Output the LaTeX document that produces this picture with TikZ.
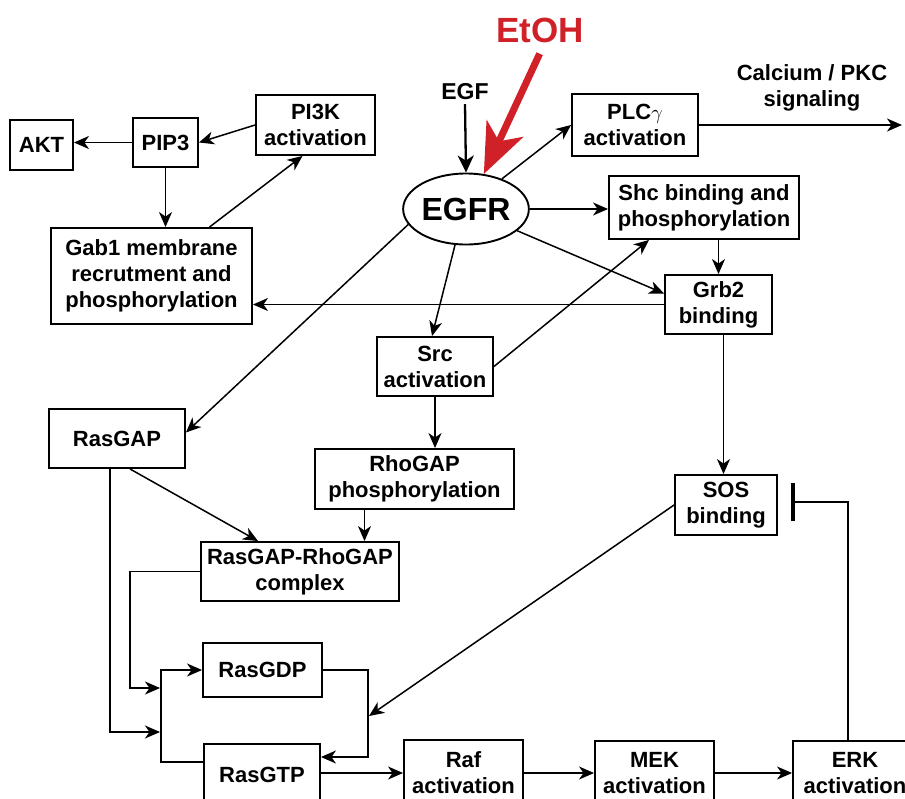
\documentclass[tikz,border=0pt]{standalone}
\usepackage{fontspec}
\setmainfont{Liberation Sans}
\usetikzlibrary{arrows.meta,shapes.geometric}
\definecolor{etohred}{RGB}{208,32,40}

\begin{document}
\begin{tikzpicture}[->,>={Stealth[length=15pt,width=13pt,inset=4.5pt]},
  x=1pt,y=-1pt,line width=1.5pt]
  \tikzstyle{every node}=[font=\fontsize{22}{26}\selectfont\bfseries]
  \tikzstyle{box}=[draw,line width=1.9pt,align=center,inner sep=0pt]
  \tikzstyle{egfarrow}=[line width=2.3pt,-{Stealth[length=17pt,width=16pt,inset=5pt]}]
  \tikzstyle{etoharrow}=[draw=etohred,line width=7pt,shorten <=8pt,
    -{Stealth[length=50pt,width=40pt,inset=14pt]}]
  \tikzstyle{inhibit}=[-{Bar[width=38pt,line width=3.5pt]}]

  \fill[white,-] (0,0) rectangle (905,798);
  \useasboundingbox (0,0) rectangle (905,798);

  % upper left: PI3K branch
  \node[box,minimum width=63,minimum height=50]  (akt)  at (41.5,145)  {AKT};
  \node[box,minimum width=65,minimum height=49]  (pip3) at (165.5,142.5) {PIP3};
  \node[box,minimum width=119,minimum height=60] (pi3k) at (315.5,125)  {PI3K\\activation};
  \node[box,minimum width=201,minimum height=96] (gab1) at (151.5,276)
    {Gab1 membrane\\recrutment and\\phosphorylation};

  % receptor and inputs
  \node[draw,ellipse,line width=1.9pt,minimum width=108,minimum height=71,inner sep=0pt,
    font=\fontsize{32}{36}\selectfont\bfseries] (egfr) at (466,209) {EGFR};
  \node[font=\fontsize{23}{26}\selectfont\bfseries] (egf) at (465,92) {EGF};
  \node[text=etohred,font=\fontsize{35}{40}\selectfont\bfseries] (etoh) at (540,30) {EtOH};

  % right side
  \node[box,minimum width=126,minimum height=62] (plc)  at (635,125)   {PLC$\gamma$\\activation};
  \node[align=center]                            (calcium) at (812,88) {Calcium / PKC\\signaling};
  \node[box,minimum width=190,minimum height=63] (shc)  at (704,207.5) {Shc binding and\\phosphorylation};
  \node[box,minimum width=107,minimum height=59] (grb2) at (718.5,304.5) {Grb2\\binding};
  \node[box,minimum width=102,minimum height=60] (sos)  at (726,505)   {SOS\\binding};

  % middle
  \node[box,minimum width=116,minimum height=59] (src)     at (435,366.5) {Src\\activation};
  \node[box,minimum width=136,minimum height=59] (rasgap)  at (117,438.5) {RasGAP};
  \node[box,minimum width=199,minimum height=60] (rhogap)  at (414.5,479) {RhoGAP\\phosphorylation};
  \node[box,minimum width=198,minimum height=59] (complex) at (300,571.5) {RasGAP-RhoGAP\\complex};

  % Ras cycle and MAPK cascade
  \node[box,minimum width=119,minimum height=54] (rasgdp) at (262.5,670) {RasGDP};
  \node[box,minimum width=116,minimum height=62] (rasgtp) at (262,775)   {RasGTP};
  \node[box,minimum width=119,minimum height=66,text depth=0pt] (raf) at (463.5,773) {Raf\\activation};
  \node[box,minimum width=119,minimum height=64,text depth=0pt] (mek) at (654.5,773) {MEK\\activation};
  \node[box,minimum width=124,minimum height=64,text depth=0pt] (erk) at (855,773)   {ERK\\activation};

  \coordinate (calcend) at (902,125);
  \coordinate (inGDP)   at (160,688);
  \coordinate (inGTP)   at (160,732);
  \coordinate (inloop)  at (369,716);
  \coordinate (sosinh)  at (791,502);

  % connectors
  \draw (pip3.west) -- (pip3.west -| akt.east);
  \draw (pi3k.west) -- (pip3.east);
  \draw (pip3.south) -- (pip3.south |- gab1.north);
  \draw ([xshift=58]gab1.north) -- ([xshift=-13]pi3k.south);
  \draw[egfarrow] (egf.south) -- (egfr.north);
  \draw[etoharrow] ([xshift=3]etoh.south) -- (egfr.63);
  \draw (egfr.40) -- (plc.west);
  \draw (plc.east) -- (calcend);
  \draw (egfr.east) -- (egfr.east -| shc.west);
  \draw (egfr.-23) -- ([yshift=11]grb2.west);
  \draw (shc.south -| grb2.north) -- (grb2.north);
  \draw (grb2.west) -- (grb2.west -| gab1.east);
  \draw (egfr.-107) -- ([xshift=-3]src.north);
  \draw (src.east) -- ([xshift=-55]shc.south);
  \draw (egfr.-165) -- ([yshift=6]rasgap.east);
  \draw (src.south) -- (src.south |- rhogap.north);
  \draw ([xshift=5]grb2.south) -- ([xshift=5]grb2.south |- sos.north);
  \draw ([xshift=13]rasgap.south) -- ([xshift=-42]complex.north);
  \draw ([xshift=-50]rhogap.south) -- ([xshift=-50]rhogap.south |- complex.north);
  \draw (complex.west) -- ++(-70,0) |- (inGDP);
  \draw ([xshift=-7]rasgap.south) |- (inGTP);
  \draw ([yshift=13]rasgtp.west) -- ++(-42,0) |- (rasgdp.west);
  \draw (rasgdp.east) -- ++(45,0) |- ([yshift=18]rasgtp.east);
  \draw (sos.west) -- (inloop);
  \draw ([yshift=2]rasgtp.east) -- ([yshift=2]rasgtp.east -| raf.west);
  \draw (raf.east) -- (mek.west);
  \draw (mek.east) -- (erk.west);
  \draw[inhibit] ([xshift=-7]erk.north) |- (sosinh);
\end{tikzpicture}
\end{document}
